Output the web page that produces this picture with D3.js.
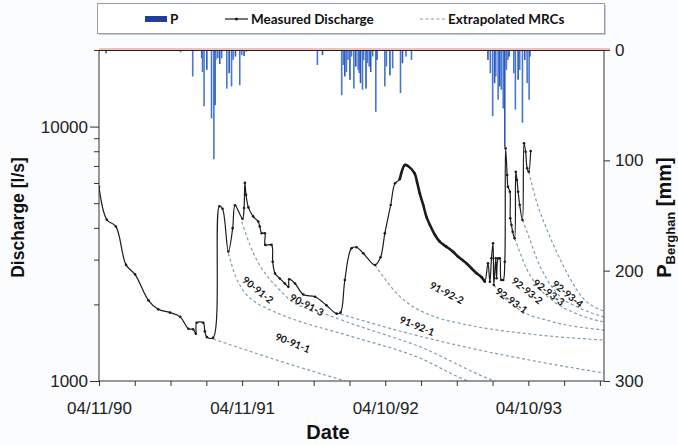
<!DOCTYPE html>
<html><head><meta charset="utf-8">
<script src="https://cdn.jsdelivr.net/npm/d3@7/dist/d3.min.js"></script>
<style>
html,body{margin:0;padding:0;background:#fbfcfe;}
svg{display:block;}
</style></head>
<body>
<script>
// ---------- DATA ----------
// days counted from 1990-04-11 (first axis date)
const xTickDays   = [0, 365, 730, 1095];
const xTickLabels = ["04/11/90", "04/11/91", "04/10/92", "04/10/93"];
const yTickLabels = [1000, 10000];
const pTickValues = [0, 100, 200, 300];

// measured discharge [l/s]
const qDays = [0,20,43,69,92,126,151,181,207,228,240,247,249,266,270,275,291,307,315,330,341,347,366,370,372,375,381,393,406,410,415,423,424,440,443,449,461,474,483,485,500,521,551,580,606,616,627,644,657,674,704,718,729,744,755,767,780,788,805,811,818,827,835,844,857,869,886,903,916,929,937,950,963,976,984,992,997,1001,1005,1007,1012,1014,1018,1022,1026,1031,1035,1037,1041,1043,1048,1049,1052,1055,1060,1063,1066,1069,1073,1080,1084,1088,1092,1096,1101];
const qValues = [5795,4305,4050,2860,2624,2075,1913,1857,1787,1605,1596,1534,1694,1694,1567,1488,1480,4862,4753,3227,3989,4904,4340,4788,6006,5397,4812,4437,4237,4050,3810,3810,3427,3427,2944,2648,2530,2417,2345,2512,2417,2187,2143,1985,1840,1857,2495,3324,3354,3177,2858,3063,3806,4918,5985,6205,7063,7000,6551,6073,5468,4918,4424,4104,3748,3529,3373,3223,3080,2971,2902,2773,2650,2557,2457,2902,2457,3036,3477,2385,3036,2534,3036,3036,2495,2495,2944,8217,6453,5804,5548,4360,4104,3862,3638,6648,6168,5548,4918,4294,8597,7964,6858,6648,8017];
// period recorded daily (drawn heavier, as in the original)
const dailyPeriod = [767, 984];

// precipitation P Berghan [mm]
const pDays = [18,208,239,262,264,268,275,287,293,296,298,303,308,313,326,332,338,342,348,359,364,370,376,557,570,619,623,627,631,635,640,644,650,655,661,664,667,672,675,681,684,689,693,698,706,709,729,733,742,749,769,774,783,797,992,998,1004,1009,1012,1018,1022,1026,1031,1035,1039,1043,1046,1058,1062,1069,1073,1080,1086,1092,1097,1099];
const pValues = [3,2,24,7.5,20,51,18,62,99,50,9,7.5,12.7,7.5,35,21,33,9,6,32,4.5,5.5,1.5,13.6,4.5,41,13.6,24,20,9,27,6,35,15,18,21,30,36,9,35,12,15,20,6,56,9,33,15,23,16.6,39,12,6,9,9,21,60,30,24,45,33,36,53,88,18,9,6,21,54,27,18,66,9,30,45,6];

// extrapolated master recession curves: [day, discharge]
const mrc90911 = [[291,1463],[461,1198],[627,1000],[767,857]];
const mrc90912 = [[330,3177],[349,2564],[367,2279],[398,2045],[428,1931],[487,1769],[640,1503],[818,1231],[941,1000],[1022,922]];
const mrc90913 = [[364,4228],[385,3424],[405,2936],[427,2610],[461,2279],[487,2082],[571,1851],[640,1690],[818,1364],[1009,1000],[1073,930]];
const mrc91921 = [[616,1834],[767,1572],[946,1348],[1124,1188],[1288,1075]];
const mrc91922 = [[704,2858],[725,2570],[759,2212],[801,1959],[844,1817],[929,1675],[1099,1530],[1288,1449]];
const mrc92931 = [[1007,2385],[1035,2120],[1073,1901],[1150,1721],[1288,1586]];
const mrc92932 = [[1060,3638],[1073,3223],[1090,2773],[1116,2385],[1162,2045],[1226,1817],[1288,1706]];
const mrc92933 = [[1080,4294],[1098,3638],[1116,3036],[1141,2534],[1175,2159],[1226,1936],[1288,1785]];
const mrc92934 = [[1096,6648],[1116,5067],[1141,3983],[1167,3223],[1201,2534],[1234,2120],[1264,1954],[1288,1884]];
const mrcCurves = [mrc90911, mrc90912, mrc90913, mrc91921, mrc91922, mrc92931, mrc92932, mrc92933, mrc92934];
const mrcNames  = ["90-91-1","90-91-2","90-91-3","91-92-1","91-92-2","92-93-1","92-93-2","92-93-3","92-93-4"];
// label anchor [day, discharge, angle]
const mrcLabelPos = [[494,1410,22],[405,2279,39],[530,1989,27],[811,1645,22],[887,2218,27],[1052,2068,36],[1092,2262,39],[1147,2228,37],[1195,2198,39]];

// ---------- LAYOUT ----------
const W = 678, H = 445;
const L = 99, R = 604, T = 50, B = 381;
const START = new Date(1990, 3, 11);
const dt = d => new Date(START.getTime() + d * 864e5);

const svg = d3.select("body").append("svg").attr("width", W).attr("height", H)
  .style("font-family", "'Liberation Sans', Arial, sans-serif");

const x = d3.scaleTime().domain([dt(0), dt(1288)]).range([L, R]);
const y = d3.scaleLog().domain([1000, 20000]).range([B, T]);
const yP = d3.scaleLinear().domain([0, 300]).range([T, B]);

svg.append("rect").attr("x", L).attr("y", T).attr("width", R - L).attr("height", B - T).attr("fill", "#ffffff");

const defs = svg.append("defs");
defs.append("clipPath").attr("id", "clip").append("rect")
  .attr("x", L).attr("y", T).attr("width", R - L).attr("height", B - T);

// precipitation bars
svg.append("g").attr("clip-path", "url(#clip)").selectAll("rect")
  .data(pDays.map((d, i) => ({d, v: pValues[i]})))
  .join("rect")
  .attr("x", p => x(dt(p.d)) - 0.8)
  .attr("width", 1.6)
  .attr("y", yP(0))
  .attr("height", p => yP(p.v) - yP(0))
  .attr("fill", (p, i) => i % 3 === 0 ? "#2f58b8" : "#4477d4");

// recession curves
const mrcLine = d3.line().x(p => x(dt(p[0]))).y(p => y(p[1])).curve(d3.curveMonotoneX);
svg.append("g").attr("clip-path", "url(#clip)").selectAll("path")
  .data(mrcCurves).join("path")
  .attr("d", mrcLine)
  .attr("fill", "none").attr("stroke", "#7f9db3").attr("stroke-width", 1.2)
  .attr("stroke-dasharray", "3,2.5");

// measured discharge (smoothed line with markers)
const qData = qDays.map((d, i) => [d, qValues[i]]);
const qLine = d3.line().x(p => x(dt(p[0]))).y(p => y(p[1])).curve(d3.curveCatmullRom.alpha(0.5));
const gq = svg.append("g").attr("clip-path", "url(#clip)");
gq.append("path").attr("d", qLine(qData)).attr("fill", "none")
  .attr("stroke", "#1c1c1c").attr("stroke-width", 1.2);
gq.append("path").attr("d", qLine(qData.filter(p => p[0] >= dailyPeriod[0] && p[0] <= dailyPeriod[1])))
  .attr("fill", "none").attr("stroke", "#1c1c1c").attr("stroke-width", 2.6);
gq.selectAll("circle").data(qData).join("circle")
  .attr("cx", p => x(dt(p[0]))).attr("cy", p => y(p[1])).attr("r", 1.3).attr("fill", "#1c1c1c");

// curve labels
svg.append("g").selectAll("text").data(mrcNames).join("text")
  .attr("transform", (n, i) => `translate(${x(dt(mrcLabelPos[i][0]))},${y(mrcLabelPos[i][1])}) rotate(${mrcLabelPos[i][2]})`)
  .attr("text-anchor", "middle").attr("dy", "0.35em")
  .style("font-family", "Lato, sans-serif").style("font-weight", 700).style("font-size", "10px")
  .attr("fill", "#111").text(n => n);

// ---------- AXES ----------
const axisColor = "#333";
// left log axis
const yTicks = [1000,2000,3000,4000,5000,6000,7000,8000,9000,10000,20000];
const gy = svg.append("g").attr("transform", `translate(${L},0)`)
  .call(d3.axisLeft(y).tickValues(yTicks).tickSize(5).tickFormat(v => yTickLabels.includes(v) ? v : ""));
gy.selectAll(".tick line").attr("x2", v => yTickLabels.includes(v) ? -9 : -5);
gy.selectAll(".tick text").attr("x", -11).style("font-size", "17px").attr("fill", "#222");
gy.select(".domain").attr("stroke", axisColor).attr("d", `M0,${T}V${B}`);
gy.selectAll("line").attr("stroke", axisColor);

// right precipitation axis
const gp = svg.append("g").attr("transform", `translate(${R},0)`)
  .call(d3.axisRight(yP).tickValues(pTickValues).tickSize(6).tickPadding(5));
gp.selectAll(".tick text").style("font-size", "17px").attr("fill", "#222");
gp.select(".domain").attr("stroke", axisColor).attr("d", `M0,${T}V${B}`);
gp.selectAll("line").attr("stroke", axisColor);

// bottom date axis
const xMinor = d3.range(0, 1288, 91.25).map(dt);
const gx = svg.append("g").attr("transform", `translate(0,${B})`)
  .call(d3.axisBottom(x).tickValues(xMinor).tickSize(5).tickPadding(16)
    .tickFormat((v, i) => i % 4 === 0 ? xTickLabels[i / 4] : ""));
gx.selectAll(".tick text").style("font-size", "17px").attr("fill", "#222");
gx.select(".domain").attr("stroke", axisColor).attr("d", `M${L},0H${R}`);
gx.selectAll("line").attr("stroke", axisColor);

// top border: salmon + dark line
svg.append("line").attr("x1", L).attr("x2", R + 6).attr("y1", T - 1).attr("y2", T - 1).attr("stroke", "#e08a78").attr("stroke-width", 1);
svg.append("line").attr("x1", L).attr("x2", R).attr("y1", T + 0.5).attr("y2", T + 0.5).attr("stroke", "#222").attr("stroke-width", 1);

// axis titles
svg.append("text").attr("transform", `translate(24,${(T + B) / 2 + 2}) rotate(-90)`)
  .attr("text-anchor", "middle").style("font-weight", 700).style("font-size", "17.5px").attr("fill", "#111")
  .text("Discharge [l/s]");

const pt = svg.append("text").attr("transform", `translate(671,${(T + B) / 2 + 2}) rotate(-90)`)
  .attr("text-anchor", "middle").style("font-weight", 700).style("font-size", "20px").attr("fill", "#111");
pt.append("tspan").text("P");
pt.append("tspan").attr("dy", 4).style("font-size", "13px").text("Berghan");
pt.append("tspan").attr("dy", -4).text(" [mm]");

svg.append("text").attr("x", 328).attr("y", 439).attr("text-anchor", "middle")
  .style("font-weight", 700).style("font-size", "20px").attr("fill", "#111").text("Date");

// ---------- LEGEND ----------
const lg = svg.append("g");
lg.append("rect").attr("x", 99).attr("y", 5).attr("width", 507).attr("height", 30).attr("fill", "#c8ccd2");
lg.append("rect").attr("x", 97.5).attr("y", 3.5).attr("width", 507).attr("height", 30)
  .attr("fill", "#ffffff").attr("stroke", "#9a9fa6").attr("stroke-width", 1);
const ly = 19;
lg.append("rect").attr("x", 145).attr("y", ly - 3).attr("width", 22).attr("height", 6).attr("fill", "#1f3f99");
const lf = {"font-family": "Lato, sans-serif", "font-weight": 700, "font-size": "13.5px"};
function ltext(xp, s) {
  const t = lg.append("text").attr("x", xp).attr("y", ly).attr("dy", "0.35em").attr("fill", "#111").text(s);
  Object.entries(lf).forEach(([k, v]) => t.style(k, v));
}
ltext(170, "P");
lg.append("line").attr("x1", 225).attr("x2", 248).attr("y1", ly).attr("y2", ly).attr("stroke", "#1c1c1c").attr("stroke-width", 1.2);
lg.append("circle").attr("cx", 236.5).attr("cy", ly).attr("r", 1.5).attr("fill", "#1c1c1c");
ltext(251, "Measured Discharge");
lg.append("line").attr("x1", 420).attr("x2", 445).attr("y1", ly).attr("y2", ly).attr("stroke", "#7f9db3").attr("stroke-width", 1.2).attr("stroke-dasharray", "3,2.5");
ltext(448, "Extrapolated MRCs");
</script>
</body></html>
